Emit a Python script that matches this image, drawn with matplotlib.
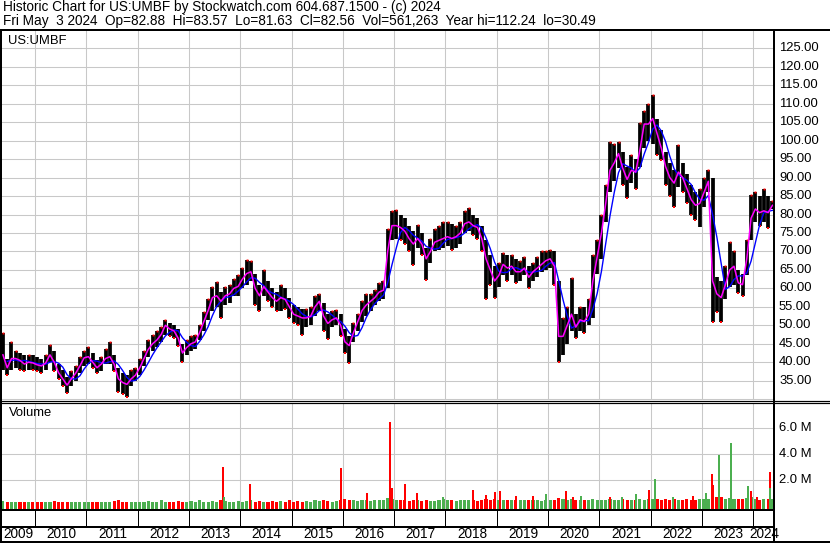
import matplotlib
matplotlib.use("Agg")
import matplotlib.pyplot as plt
from matplotlib.lines import Line2D
import numpy as np
import pandas as pd

# monthly readings, May 2009 .. May 2024 (magenta-ish level, high, low)
mid = [
    42, 38.5, 41, 41, 40.5, 39.5, 40, 39.8,
    39.3, 39, 39.8, 42, 40, 37.2, 35.5, 33.8, 35.5, 37, 39, 41.2,
    41.5, 40, 38.5, 39.5, 41, 41.5, 39.5, 35.5, 34.5, 34, 35.5, 36.5,
    38.5, 41, 43.5, 45, 46, 47.5, 50, 49, 48.5, 46.5, 42.5, 44,
    45, 45.5, 48, 51, 54, 57.5, 58, 56.5, 58, 58.5, 60, 60.5,
    62.5, 64, 64.5, 60, 58, 60.5, 59, 57.5, 56.5, 57.5, 57, 55,
    53, 52.5, 52, 52, 52.5, 55, 56.5, 52.5, 50.5, 51.5, 52, 50,
    45.5, 44.5, 48, 51, 54, 55.5, 56.5, 57.5, 59, 59.5, 70, 77,
    77, 76.5, 75.5, 73.5, 72, 73.5, 72, 68, 70, 72.5, 73, 73.5,
    74, 73.5, 74, 75, 77.5, 78, 77, 76.5, 73.5, 68, 65, 62,
    63.5, 66.5, 65.5, 66, 64.5, 64.5, 65.5, 63, 64.5, 65.5, 66.5, 67.5,
    68, 66, 47, 47, 50, 53, 49.5, 51.5, 51, 53, 62, 68.5,
    75, 83, 92, 94, 96.5, 92.5, 89.5, 92, 91.5, 97.5, 104.5, 104.5,
    106, 102, 98, 93, 90, 88.5, 91.5, 90, 87, 84, 82.5, 83,
    86, 89, 62, 58.5, 57.5, 61, 65, 66, 61.5, 61, 68, 79,
    81.5, 80.5, 81, 80.5, 82.5,
]
high = [
    48, 41, 45.4, 43, 42.5, 42, 42, 42,
    41.5, 41, 42, 44.7, 43, 39.5, 38, 36, 37.5, 39, 41.5, 43,
    44.2, 42.5, 40.5, 41.5, 43.5, 45.6, 42, 38.5, 37, 36.5, 38, 38.5,
    41, 43, 46, 47.5, 48.5, 49.5, 51.5, 50.5, 50, 49, 45, 46,
    47, 47.5, 50, 53.6, 57, 60.5, 61.8, 59, 60.5, 61, 62.5, 63.5,
    65.5, 67.7, 67.5, 64, 61, 65, 62, 60, 59, 60.9, 60, 57.5,
    55.5, 55, 54.5, 54.5, 55, 58, 58.6, 56, 53, 54, 54.2, 53,
    49, 47, 50.5, 53, 56.5, 58.6, 58.5, 59.5, 61.5, 62, 76, 81,
    81.2, 80, 79, 77, 75.5, 77.2, 75, 71, 73.5, 76, 77, 78.1,
    78, 77.5, 77, 78, 81, 81.7, 80, 79, 77, 73, 69, 66,
    67, 69.5, 69, 69, 68, 67.5, 68.5, 66, 67, 68.5, 70, 70,
    70.5, 70, 62, 52, 55, 62.7, 53, 55, 55, 57, 69, 73,
    80, 88, 99.6, 99, 99.6, 97, 93, 96, 95, 104.7, 108, 110,
    112.4, 106, 103, 97, 94, 92, 98.8, 94, 91, 88, 86, 87,
    90, 92, 90, 63, 62, 66, 72.5, 70, 65, 64, 73, 85.2,
    86, 85, 87, 85, 83.6,
]
low = [
    38, 36.5, 38, 38.5, 38, 37.5, 38, 38,
    37.5, 37, 38, 40, 37.5, 35.5, 33.5, 31.6, 33.5, 35, 37, 39,
    39.5, 38.5, 37, 37.5, 39.5, 39.5, 37.5, 32, 31.5, 30.5, 33.5, 35,
    36.5, 39, 41.5, 43, 44, 45.5, 47.5, 47, 46.5, 44.5, 40, 42,
    43, 43.5, 46, 48.5, 51.5, 54, 55, 52, 55.5, 56, 58, 58,
    60, 61, 62, 55.5, 54, 58, 56.5, 55, 54, 54, 54.5, 52,
    50.5, 50, 47.3, 49.5, 50, 52.5, 54, 48.5, 46.4, 49.5, 50, 47,
    42.5, 39.7, 45.5, 48.5, 51, 52.5, 54, 55.5, 56.5, 57, 60, 73,
    73.5, 73, 72, 70, 66.3, 71, 69, 62.3, 67, 70, 70.5, 71,
    71.5, 70.5, 71, 72, 75, 75.5, 74.5, 73.5, 70, 57, 61, 57.5,
    60.5, 63.5, 62, 63.5, 61.5, 62, 63.5, 60, 62, 63, 64.5, 65,
    65.5, 61, 40, 42, 45, 48.5, 46.5, 48.5, 48, 50, 52, 64,
    68, 78, 86, 89, 92.5, 88, 84.4, 88.5, 87, 93, 98, 100,
    99, 96, 94.8, 88, 85, 82, 87.5, 86, 83, 80, 78.5, 76.6,
    82, 86, 50.9, 53.5, 51, 57, 60.5, 61, 58.7, 58, 63.5, 73,
    78, 77, 78, 76.3, 81.6,
]
# typical daily volume per month, millions
vol_base = [
    0.35, 0.3, 0.3, 0.28, 0.3, 0.3, 0.25, 0.3,
    0.3, 0.25, 0.28, 0.3, 0.35, 0.25, 0.25, 0.3, 0.28, 0.25, 0.3, 0.3,
    0.28, 0.25, 0.3, 0.25, 0.28, 0.3, 0.35, 0.4, 0.3, 0.3, 0.28, 0.3,
    0.3, 0.3, 0.35, 0.3, 0.3, 0.4, 0.3, 0.25, 0.3, 0.35, 0.3, 0.3,
    0.35, 0.3, 0.4, 0.3, 0.3, 0.35, 0.3, 0.4, 0.35, 0.3, 0.3, 0.35,
    0.3, 0.35, 0.4, 0.3, 0.35, 0.3, 0.3, 0.35, 0.3, 0.35, 0.3, 0.4,
    0.3, 0.35, 0.3, 0.35, 0.3, 0.45, 0.35, 0.4, 0.35, 0.3, 0.35, 0.4,
    0.5, 0.45, 0.4, 0.35, 0.4, 0.45, 0.35, 0.4, 0.4, 0.45, 0.6, 0.5,
    0.45, 0.4, 0.4, 0.35, 0.45, 0.4, 0.35, 0.4, 0.35, 0.35, 0.4, 0.5,
    0.45, 0.4, 0.35, 0.4, 0.4, 0.45, 0.4, 0.35, 0.4, 0.5, 0.45, 0.5,
    0.45, 0.4, 0.45, 0.4, 0.4, 0.45, 0.4, 0.45, 0.4, 0.4, 0.35, 0.45,
    0.4, 0.45, 0.6, 0.55, 0.45, 0.5, 0.4, 0.4, 0.45, 0.4, 0.5, 0.45,
    0.45, 0.4, 0.5, 0.45, 0.4, 0.5, 0.4, 0.4, 0.45, 0.5, 0.45, 0.5,
    0.55, 0.5, 0.45, 0.5, 0.45, 0.5, 0.4, 0.45, 0.5, 0.45, 0.4, 0.5,
    0.55, 0.5, 0.9, 0.7, 0.65, 0.55, 0.6, 0.55, 0.5, 0.55, 0.6, 0.65,
    0.5, 0.45, 0.5, 0.55, 0.55,
]
# single-day volume spikes: (decimal year, millions, up day?)
spike_t = [2013.67, 2013.69, 2014.20, 2015.96, 2016.47, 2016.92, 2016.95,
           2017.21, 2017.44, 2017.96, 2018.54, 2018.80, 2018.97, 2019.06,
           2019.38, 2019.71, 2019.96, 2020.36, 2020.48, 2020.64, 2021.21,
           2021.44, 2021.72, 2021.97, 2022.09, 2022.44, 2022.82, 2023.08,
           2023.19, 2023.21, 2023.33, 2023.56, 2023.90, 2023.95, 2024.07,
           2024.33, 2024.33]
spike_v = [3.0, 0.66, 1.67, 2.9, 0.97, 6.5, 1.35,
           1.67, 0.97, 0.66, 1.2, 0.8, 1.05, 1.1,
           0.75, 0.75, 0.9, 1.1, 0.7, 0.75, 0.65,
           0.66, 0.9, 1.2, 2.1, 0.66, 0.75, 0.95,
           2.44, 1.6, 3.9, 4.85, 1.5, 1.1, 0.7,
           2.57, 1.4]
spike_up = [0, 1, 0, 0, 0, 0, 0,
            0, 0, 1, 0, 0, 0, 0,
            0, 0, 1, 0, 0, 1, 0,
            1, 1, 0, 1, 1, 0, 1,
            0, 0, 1, 1, 1, 0, 0,
            0, 1]

price_ticks = list(range(35, 130, 5))
vol_ticks = [2, 4, 6]
years = list(range(2009, 2025))

header1 = "Historic Chart for US:UMBF by Stockwatch.com 604.687.1500 - (c) 2024"
header2 = ("Fri May  3 2024  Op=82.88  Hi=83.57  Lo=81.63  Cl=82.56  "
           "Vol=561,263  Year hi=112.24  lo=30.49")

W, H = 830, 543
PX_YEAR = 51.3   # pixels per year
X2010 = 35       # pixel of 1 Jan 2010
GRID = "#c8c8c8"
FONT = "Liberation Sans"


def px2t(x):
    return 2010 + (x - X2010) / PX_YEAR


def box(x0, y0, x1, y1):
    return [x0 / W, 1 - y1 / H, (x1 - x0) / W, (y1 - y0) / H]


def fline(fig, x0, y0, x1, y1, lw=1.0, color="black"):
    fig.add_artist(Line2D([x0 / W, x1 / W], [1 - y0 / H, 1 - y1 / H],
                          transform=fig.transFigure, color=color,
                          linewidth=lw * 0.72, solid_capstyle="butt"))


def ftext(fig, x, y, s, **kw):
    kw.setdefault("fontsize", 9.4)
    kw.setdefault("family", FONT)
    fig.text(x / W, 1 - y / H, s, **kw)


def main() -> None:
    months = pd.date_range("2009-05-01", periods=len(mid), freq="MS")
    t = months.year + (months.month - 0.5) / 12
    t = np.asarray(t, dtype=float)

    s = pd.Series(mid, dtype=float)
    ma_fast = s
    ma_slow = s.rolling(4, min_periods=2).mean()
    down = np.r_[False, np.diff(mid) < 0]

    fig = plt.figure(figsize=(W / 100, H / 100), dpi=100)
    fig.patch.set_facecolor("white")

    x_lim = (px2t(0), px2t(774))
    year_lines = [y for y in years if y > 2009]

    # price panel
    ax = fig.add_axes(box(0, 31, 774, 400))
    ax.set_xlim(x_lim)
    ax.set_ylim(29.77, 129.7)
    ax.axis("off")
    for p in range(30, 130, 5):
        ax.axhline(p, color=GRID, lw=0.75, zorder=0)
    for y in year_lines:
        ax.axvline(y, color=GRID, lw=0.75, zorder=0)
    ax.vlines(t, low, high, color="black", lw=2.7, zorder=2)
    ax.plot(t[down], np.asarray(low)[down], "s", color="red", ms=1.6,
            mew=0, zorder=3)
    ax.plot(t[~down], np.asarray(high)[~down], "s", color="red", ms=1.4,
            mew=0, zorder=3)
    ax.plot(t, ma_slow, color="#0000ff", lw=1.0, zorder=4)
    ax.plot(t, ma_fast, color="#ff00ff", lw=1.1, zorder=5)

    # volume panel
    vbot = -0.22
    av = fig.add_axes(box(0, 402.5, 774, 508.5))
    av.set_xlim(x_lim)
    av.set_ylim(vbot, 7.98)
    av.axis("off")
    for v in vol_ticks:
        av.axhline(v, color=GRID, lw=0.75, zorder=0)
    for y in year_lines:
        av.axvline(y, color=GRID, lw=0.75, zorder=0)
    base_col = np.where(down, "#ff0000", "#4caf50")
    av.bar(t, np.asarray(vol_base) - vbot, bottom=vbot, width=0.06,
           color=base_col, zorder=2)
    sp_col = ["#4caf50" if u else "#ff0000" for u in spike_up]
    av.bar(spike_t, np.asarray(spike_v) - vbot, bottom=vbot, width=0.04,
           color=sp_col, zorder=3)

    # frame lines
    fline(fig, 0, 30, W, 30, lw=2)
    fline(fig, 1, 30, 1, 542, lw=2)
    fline(fig, 774, 30, 774, 542, lw=2)
    fline(fig, 0, 400.5, W, 400.5, lw=1.2)
    fline(fig, 0, 403, W, 403, lw=1.2)
    fline(fig, 0, 509.5, 774, 509.5, lw=2)
    fline(fig, 0, 526.5, 774, 526.5, lw=2)
    fline(fig, 0, 541.5, W, 541.5, lw=2)
    for y in year_lines:
        x = X2010 + (y - 2010) * PX_YEAR
        fline(fig, x, 509.5, x, 526.5, lw=1)

    # texts
    ftext(fig, 3, 7.5, header1, va="center", fontsize=9.8)
    ftext(fig, 3, 20.5, header2, va="center", fontsize=9.8)
    ftext(fig, 8, 41.5, "US:UMBF", va="center")
    ftext(fig, 9, 413, "Volume", va="center")
    for p in price_ticks:
        y = 380.7 - (p - 35) * 3.693
        ftext(fig, 779, y, f"{p:.2f}", va="center")
    for v in vol_ticks:
        y = 505.7 - v * 12.925
        ftext(fig, 779, y, f"{v:.1f} M", va="center")
    for y in years:
        x0 = max(0, X2010 + (y - 2010) * PX_YEAR)
        x1 = min(774, X2010 + (y + 1 - 2010) * PX_YEAR)
        ftext(fig, (x0 + x1) / 2 + 1, 534.5, str(y), ha="center",
              va="center", fontsize=9.8)

    fig.savefig("out.png", dpi=100)
    plt.close(fig)


if __name__ == "__main__":
    main()
